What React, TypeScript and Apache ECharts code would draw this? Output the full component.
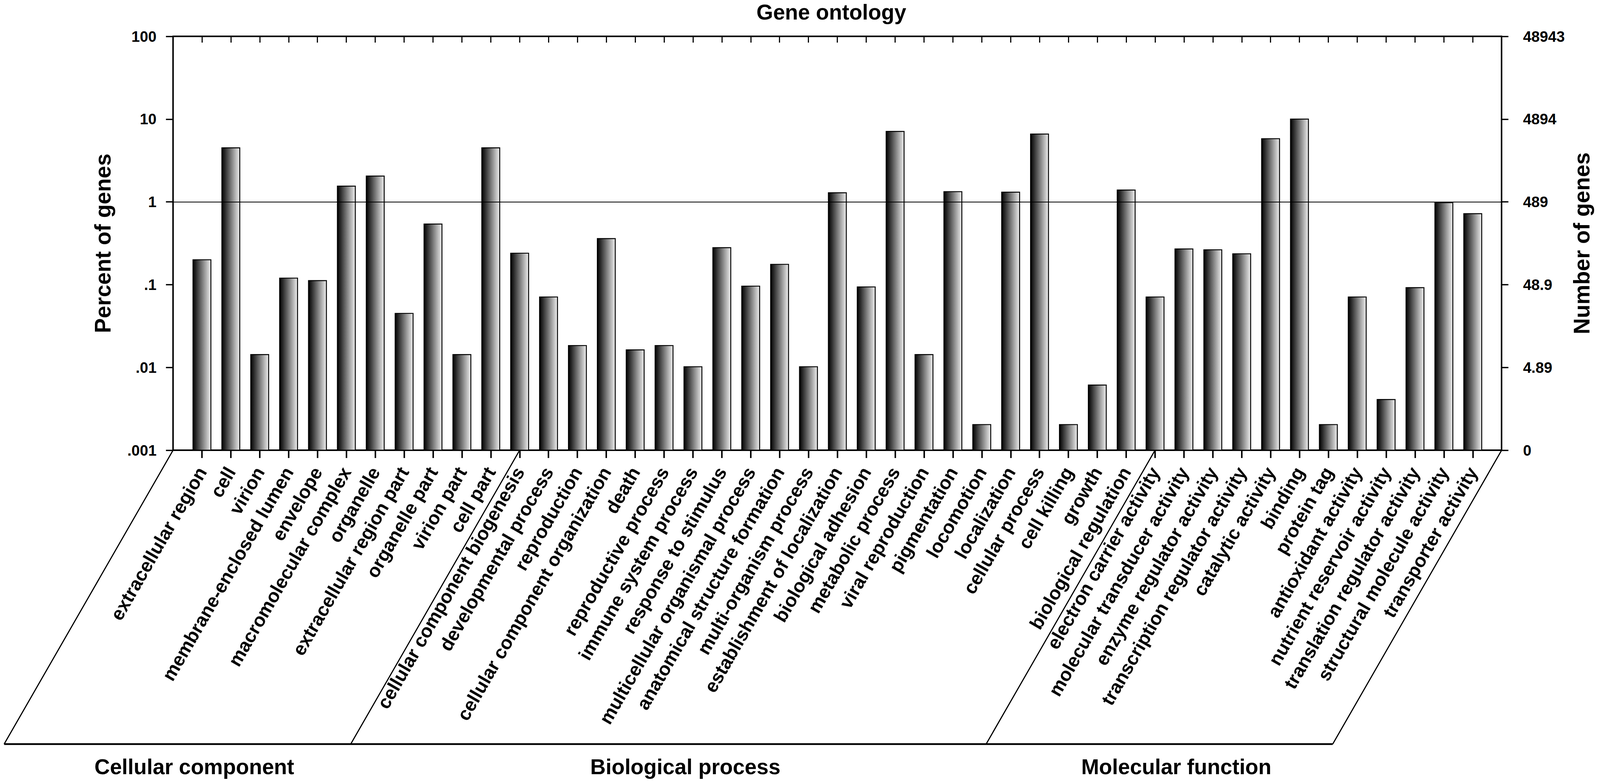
import React, { useEffect, useRef } from 'react';
import * as echarts from 'echarts';

const categories = [
  'extracellular region', 'cell', 'virion', 'membrane-enclosed lumen', 'envelope',
  'macromolecular complex', 'organelle', 'extracellular region part', 'organelle part',
  'virion part', 'cell part',
  'cellular component biogenesis', 'developmental process', 'reproduction',
  'cellular component organization', 'death', 'reproductive process', 'immune system process',
  'response to stimulus', 'multicellular organismal process', 'anatomical structure formation',
  'multi-organism process', 'establishment of localization', 'biological adhesion',
  'metabolic process', 'viral reproduction', 'pigmentation', 'locomotion', 'localization',
  'cellular process', 'cell killing', 'growth', 'biological regulation',
  'electron carrier activity', 'molecular transducer activity', 'enzyme regulator activity',
  'transcription regulator activity', 'catalytic activity', 'binding', 'protein tag',
  'antioxidant activity', 'nutrient reservoir activity', 'translation regulator activity',
  'structural molecule activity', 'transporter activity',
];

const percentOfGenes = [
  0.2, 4.5, 0.0143, 0.12, 0.112, 1.55, 2.05, 0.045, 0.54, 0.0143, 4.5,
  0.24, 0.071, 0.0184, 0.36, 0.0163, 0.0184, 0.0102, 0.28, 0.096, 0.176,
  0.0102, 1.29, 0.094, 7.1, 0.0143, 1.33, 0.00204, 1.31, 6.6, 0.00204, 0.00613, 1.39,
  0.071, 0.27, 0.264, 0.236, 5.8, 10.0, 0.00204, 0.071, 0.0041, 0.092, 0.98, 0.72,
];

const groupNames = ['Cellular component', 'Biological process', 'Molecular function'];
const groupSizes = [11, 22, 12];

const percentTickLabels = ['.001', '.01', '.1', '1', '10', '100'];
const geneCountTickLabels = ['0', '4.89', '48.9', '489', '4894', '48943'];
const referenceLevel = 1;

const FONT = '"Liberation Sans", Arial, Helvetica, sans-serif';
const REF_W = 4262;
const REF_H = 2001;

export default function App() {
  const ref = useRef<HTMLDivElement>(null);

  useEffect(() => {
    const el = ref.current!;
    const chart = echarts.init(el, null, { renderer: 'svg' });
    const W = chart.getWidth();
    const H = chart.getHeight();
    const sx = W / REF_W;
    const sy = H / REF_H;
    const s = Math.min(sx, sy);
    const X = (v: number) => v * sx;
    const Y = (v: number) => v * sy;
    const S = (v: number) => v * s;

    const axisData = ['', ...categories, ''];
    const last = axisData.length - 1;
    const inner = (i: number) => i > 0 && i < last;
    const decade = (v: number) => Math.round(Math.log10(v)) + 3;
    const yMin = Number(percentTickLabels[0]);
    const yMax = Number(percentTickLabels[percentTickLabels.length - 1]);

    const barFill = new echarts.graphic.LinearGradient(0, 0, 1, 0, [
      { offset: 0, color: '#000000' },
      { offset: 1, color: '#eeeeee' },
    ]);

    const grid = { left: X(461), right: X(262), top: Y(93), bottom: Y(849) };

    const tickFont = {
      color: '#000',
      fontSize: S(40),
      fontWeight: 'bold',
      fontFamily: FONT,
    };

    const option: any = {
      animation: false,
      backgroundColor: '#ffffff',
      grid,
      xAxis: [
        {
          type: 'category',
          data: axisData,
          boundaryGap: false,
          position: 'bottom',
          axisLine: { show: true, lineStyle: { color: '#000', width: S(4) } },
          axisTick: { show: true, inside: false, length: Y(20), interval: inner, lineStyle: { color: '#000', width: S(4) } },
          axisLabel: {
            show: true,
            interval: 0,
            rotate: 60,
            margin: Y(47),
            color: '#000',
            fontSize: S(50),
            fontWeight: 'bold',
            fontFamily: FONT,
          },
          splitLine: { show: false },
        },
        {
          type: 'category',
          data: axisData,
          boundaryGap: false,
          position: 'top',
          axisLine: { show: true, lineStyle: { color: '#000', width: S(4) } },
          axisTick: { show: true, inside: true, length: Y(16), interval: inner, lineStyle: { color: '#000', width: S(3) } },
          axisLabel: { show: false },
          splitLine: { show: false },
        },
      ],
      yAxis: [
        {
          type: 'log',
          logBase: 10,
          min: yMin,
          max: yMax,
          position: 'left',
          axisLine: { show: true, lineStyle: { color: '#000', width: S(4) } },
          axisTick: { show: true, inside: false, length: X(19), lineStyle: { color: '#000', width: S(3.5) } },
          axisLabel: {
            ...tickFont,
            margin: X(44),
            formatter: (v: number) => percentTickLabels[decade(v)] ?? '',
          },
          splitLine: { show: false },
        },
        {
          type: 'log',
          logBase: 10,
          min: yMin,
          max: yMax,
          position: 'right',
          axisLine: { show: true, lineStyle: { color: '#000', width: S(4) } },
          axisTick: { show: true, inside: false, length: X(18), lineStyle: { color: '#000', width: S(3.5) } },
          axisLabel: {
            ...tickFont,
            margin: X(57),
            formatter: (v: number) => geneCountTickLabels[decade(v)] ?? '',
          },
          splitLine: { show: false },
        },
      ],
      series: [
        {
          type: 'custom',
          xAxisIndex: 0,
          yAxisIndex: 0,
          data: percentOfGenes.map((v, i) => [i + 1, v]),
          encode: { x: 0, y: 1 },
          renderItem: (params: any, api: any) => {
            const idx = api.value(0);
            const top = api.coord([idx, api.value(1)]);
            const base = api.coord([idx, yMin]);
            const w = api.size([1, 0])[0] * 0.62;
            return {
              type: 'rect',
              shape: { x: top[0] - w / 2, y: top[1], width: w, height: base[1] - top[1] },
              style: { fill: barFill, stroke: '#000', lineWidth: S(2.5) },
            };
          },
          markLine: {
            silent: true,
            symbol: ['none', 'none'],
            label: { show: false },
            lineStyle: { color: '#000', width: S(2), type: 'solid' },
            data: [{ yAxis: referenceLevel }],
          },
          z: 2,
        },
      ],
    };

    chart.setOption(option);

    // Decorations: group parallelograms, group titles and axis titles
    const yBase = chart.convertToPixel({ yAxisIndex: 0 }, yMin) as number;
    const yTop = chart.convertToPixel({ yAxisIndex: 0 }, yMax) as number;
    const drop = Y(752);
    const dx = X(450);
    const boundaries: number[] = [0];
    let pos = 1;
    for (let g = 0; g < groupSizes.length - 1; g++) {
      pos += groupSizes[g];
      boundaries.push(pos);
    }
    boundaries.push(last);
    const bx = boundaries.map((b) => chart.convertToPixel({ xAxisIndex: 0 }, b) as number);
    const yLow = yBase + drop;

    const textStyle = (text: string, size: number) => ({
      text, fill: '#000', fontSize: size, fontWeight: 'bold', fontFamily: FONT,
      align: 'center', verticalAlign: 'middle', textAlign: 'center', textVerticalAlign: 'middle',
    });

    const graphic: any[] = [];
    bx.forEach((x) => {
      graphic.push({
        type: 'polyline',
        shape: { points: [[x, yBase], [x - dx, yLow]] },
        style: { stroke: '#000', lineWidth: S(3), fill: 'none' },
        silent: true,
      });
    });
    graphic.push({
      type: 'polyline',
      shape: { points: [[bx[0] - dx, yLow], [bx[bx.length - 1] - dx, yLow]] },
      style: { stroke: '#000', lineWidth: S(4.5), fill: 'none' },
      silent: true,
    });
    groupNames.forEach((name, g) => {
      const cx = (bx[g] + bx[g + 1]) / 2 - dx + X(45);
      graphic.push({ type: 'text', x: cx, y: yLow + Y(58), style: textStyle(name, S(57)), silent: true });
    });
    const midY = (yTop + yBase) / 2;
    const midX = (bx[0] + bx[bx.length - 1]) / 2;
    graphic.push({ type: 'text', x: midX - X(16), y: Y(31), style: textStyle('Gene ontology', S(57)), silent: true });
    graphic.push({
      type: 'text', x: bx[0] - X(187), y: midY, rotation: Math.PI / 2,
      style: textStyle('Percent of genes', Y(57)), silent: true,
    });
    graphic.push({
      type: 'text', x: bx[bx.length - 1] + X(213), y: midY, rotation: Math.PI / 2,
      style: textStyle('Number of genes', Y(57)), silent: true,
    });

    chart.setOption({ graphic });

    return () => chart.dispose();
  }, []);

  return (
    <div
      ref={ref}
      style={{ position: 'fixed', left: 0, top: 0, width: '100vw', height: '100vh', background: '#fff' }}
    />
  );
}
